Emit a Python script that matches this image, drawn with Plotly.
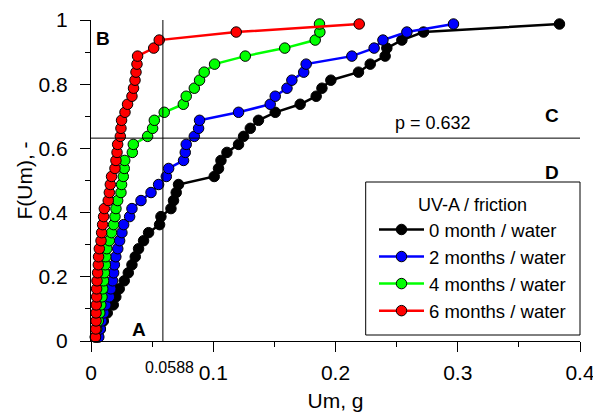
import plotly.graph_objects as go

# Cumulative probability levels (shared by all series)
F = [0.0125, 0.0375, 0.0625, 0.0875, 0.1125, 0.1375, 0.1625, 0.1875, 0.2125, 0.2375,
     0.2625, 0.2875, 0.3125, 0.3375, 0.3625, 0.3875, 0.4125, 0.4375, 0.4625, 0.4875,
     0.5125, 0.5375, 0.5625, 0.5875, 0.6125, 0.6375, 0.6625, 0.6875, 0.7125, 0.7375,
     0.7625, 0.7875, 0.8125, 0.8375, 0.8625, 0.8875, 0.9125, 0.9375, 0.9625, 0.9875]

um_0 = [0.0052, 0.0076, 0.0101, 0.0133, 0.0182, 0.0203, 0.0231, 0.0272, 0.0305, 0.0335,
        0.0362, 0.0389, 0.0430, 0.0471, 0.0561, 0.0572, 0.0654, 0.0675, 0.0697, 0.0716,
        0.1008, 0.1043, 0.1063, 0.1112, 0.1207, 0.1248, 0.1303, 0.1370, 0.1507, 0.1711,
        0.1842, 0.1889, 0.1962, 0.2188, 0.2284, 0.2406, 0.2420, 0.2543, 0.2720, 0.3832]

um_2 = [0.0064, 0.0076, 0.0088, 0.0105, 0.0121, 0.0150, 0.0162, 0.0177, 0.0185, 0.0191,
        0.0203, 0.0219, 0.0234, 0.0253, 0.0267, 0.0316, 0.0335, 0.0409, 0.0491, 0.0553,
        0.0616, 0.0635, 0.0757, 0.0771, 0.0779, 0.0845, 0.0880, 0.0888, 0.1207, 0.1466,
        0.1507, 0.1603, 0.1643, 0.1740, 0.1760, 0.2134, 0.2316, 0.2388, 0.2584, 0.2965]

um_4 = [0.0035, 0.0047, 0.0060, 0.0072, 0.0080, 0.0090, 0.0096, 0.0103, 0.0109, 0.0117,
        0.0121, 0.0129, 0.0150, 0.0168, 0.0185, 0.0196, 0.0204, 0.0218, 0.0245, 0.0250,
        0.0264, 0.0272, 0.0276, 0.0338, 0.0346, 0.0463, 0.0504, 0.0518, 0.0599, 0.0755,
        0.0779, 0.0845, 0.0888, 0.0926, 0.1011, 0.1262, 0.1585, 0.1834, 0.1872, 0.1869]

um_6 = [0.0037, 0.0039, 0.0041, 0.0041, 0.0043, 0.0046, 0.0046, 0.0049, 0.0054, 0.0060,
        0.0062, 0.0068, 0.0082, 0.0087, 0.0095, 0.0103, 0.0109, 0.0141, 0.0150, 0.0158,
        0.0168, 0.0196, 0.0204, 0.0213, 0.0218, 0.0240, 0.0245, 0.0250, 0.0278, 0.0299,
        0.0335, 0.0348, 0.0360, 0.0368, 0.0376, 0.0381, 0.0513, 0.0558, 0.1188, 0.2194]

series_names = ["0 month / water", "2 months / water", "4 months / water", "6 months / water"]
series_vals = [um_0, um_2, um_4, um_6]
series_colors = ["#000000", "#0000FF", "#00FF00", "#FF0000"]

x_ticks = [0, 0.1, 0.2, 0.3, 0.4]
y_ticks = [0, 0.2, 0.4, 0.6, 0.8, 1]

um_63 = 0.0588
p_level = 0.632

FONT = "Liberation Sans, Arial, sans-serif"

fig = go.Figure()
for i, (name, vals, col) in enumerate(zip(series_names, series_vals, series_colors)):
    fig.add_trace(go.Scatter(
        x=vals, y=F, mode="lines+markers", name=name, legendgroup=f"g{i}",
        line=dict(color=col, width=2.5),
        marker=dict(symbol="circle", size=10.5, color=col, line=dict(color="black", width=1)),
        cliponaxis=False,
    ))

# reference lines
fig.add_shape(type="line", x0=um_63, x1=um_63, y0=0, y1=1, xref="x", yref="y",
              line=dict(color="black", width=1))
fig.add_shape(type="line", x0=0, x1=0.4, y0=p_level, y1=p_level, xref="x", yref="y",
              line=dict(color="black", width=1))

# legend frame
fig.add_shape(type="rect", xref="paper", yref="paper",
              x0=(365.7 - 91) / 489, x1=(580 - 91) / 489,
              y0=(341 - 335) / 321, y1=(341 - 182) / 321,
              line=dict(color="black", width=1), fillcolor="rgba(0,0,0,0)", layer="above")

bold = dict(family=FONT, size=19, color="black")
for txt, ax, ay in [("<b>A</b>", 0.0395, 0.036), ("<b>B</b>", 0.0101, 0.942),
                    ("<b>C</b>", 0.377, 0.701), ("<b>D</b>", 0.377, 0.525)]:
    fig.add_annotation(x=ax, y=ay, xref="x", yref="y", text=txt, showarrow=False,
                       font=bold, xanchor="center", yanchor="middle")

fig.add_annotation(x=0.280, y=0.679, xref="x", yref="y", text=f"p = {p_level}",
                   showarrow=False, font=dict(family=FONT, size=18, color="black"),
                   xanchor="center", yanchor="middle")
fig.add_annotation(x=0.0645, y=-0.082, xref="x", yref="paper", text=f"{um_63}",
                   showarrow=False, font=dict(family=FONT, size=16, color="black"),
                   xanchor="center", yanchor="middle")

# page body has an 8px margin, so the figure is sized/margined to compensate
fig.update_layout(
    width=593, height=407,
    margin=dict(l=83, r=21, t=12, b=74),
    paper_bgcolor="white", plot_bgcolor="white",
    font=dict(family=FONT, color="black"),
    showlegend=True,
    legend=dict(
        x=(374 - 91) / 489, y=0.478, xanchor="left", yanchor="top",
        borderwidth=0, bgcolor="rgba(0,0,0,0)",
        font=dict(family=FONT, size=18.5, color="black"),
        title=dict(text="UV-A / friction", side="top center",
                   font=dict(family=FONT, size=18, color="black")),
        tracegroupgap=0,
        itemwidth=45,
    ),
    xaxis=dict(
        range=[0, 0.4], tickvals=x_ticks, ticktext=[str(v) for v in x_ticks],
        showgrid=False, zeroline=False, showline=True, linecolor="black", linewidth=1,
        ticks="outside", ticklen=10, tickwidth=1, tickcolor="black",
        tickfont=dict(family=FONT, size=21, color="black"),
        ticklabelstandoff=3,
        minor=dict(dtick=0.05, ticks="outside", ticklen=5, tickcolor="black", tickwidth=1),
        title=dict(text="Um, g", font=dict(family=FONT, size=21, color="black"), standoff=10),
        automargin=False,
    ),
    yaxis=dict(
        range=[0, 1], tickvals=y_ticks, ticktext=[("%g" % v) for v in y_ticks],
        showgrid=False, zeroline=False, showline=True, linecolor="black", linewidth=1,
        ticks="outside", ticklen=10, tickwidth=1, tickcolor="black",
        tickfont=dict(family=FONT, size=21, color="black"),
        ticklabelstandoff=8,
        minor=dict(dtick=0.1, ticks="outside", ticklen=5, tickcolor="black", tickwidth=1),
        title=dict(text="F(Um), -", font=dict(family=FONT, size=21, color="black"), standoff=0),
        automargin=False,
    ),
)

fig.write_html("out.html")
